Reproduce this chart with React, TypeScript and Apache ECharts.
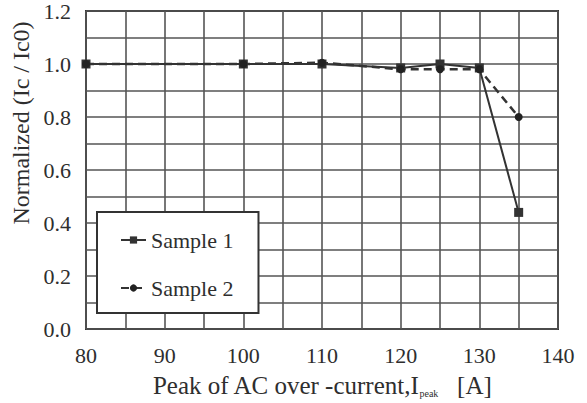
import React, { useEffect, useRef } from "react";
import * as echarts from "echarts";

// Peak AC over-current (A)
const currents = [80, 100, 110, 120, 125, 130, 135];
// Normalized critical current Ic / Ic0
const sample1 = [1.0, 1.0, 1.0, 0.985, 1.0, 0.985, 0.44];
const sample2 = [1.0, 1.0, 1.005, 0.98, 0.98, 0.98, 0.8];
const seriesNames = ["Sample 1", "Sample 2"];

const FONT = "Liberation Serif";
const INK = "#2e2e2e";

export default function App() {
  const ref = useRef<HTMLDivElement>(null);

  useEffect(() => {
    if (!ref.current) return;
    const chart = echarts.init(ref.current, undefined, { renderer: "svg" });
    const toPairs = (ys: number[]) => currents.map((x, i) => [x, ys[i]]);
    chart.setOption({
      animation: false,
      backgroundColor: "#ffffff",
      textStyle: { fontFamily: FONT, color: INK },
      grid: { left: 86, right: 29, top: 10, bottom: 71, show: true, borderColor: "#333", borderWidth: 2 },
      xAxis: {
        type: "value",
        min: 80,
        max: 140,
        interval: 5,
        name: "Peak of AC over -current,I{sub|peak}   [A]",
        nameLocation: "middle",
        nameGap: 44,
        nameTextStyle: {
          fontFamily: FONT,
          fontSize: 25,
          color: INK,
          rich: { sub: { fontFamily: FONT, fontSize: 10, color: INK, verticalAlign: "bottom", padding: [10, 0, 0, 0] } },
        },
        axisLine: { show: false },
        axisTick: { show: false },
        axisLabel: {
          fontFamily: FONT,
          fontSize: 22,
          color: INK,
          margin: 15,
          formatter: (v: number) => (v % 10 === 0 ? String(v) : ""),
        },
        splitLine: { show: true, lineStyle: { color: "#555", width: 1.6 } },
      },
      yAxis: {
        type: "value",
        min: 0,
        max: 1.2,
        interval: 0.1,
        name: "Normalized (Ic / Ic0)",
        nameLocation: "middle",
        nameGap: 51,
        nameTextStyle: { fontFamily: FONT, fontSize: 24, color: INK, padding: [0, 0, 0, 94] },
        axisLine: { show: false },
        axisTick: { show: false },
        axisLabel: {
          fontFamily: FONT,
          fontSize: 22,
          color: INK,
          margin: 15,
          formatter: (v: number) => {
            const r = Math.round(v * 10);
            return r % 2 === 0 ? (r / 10).toFixed(1) : "";
          },
        },
        splitLine: { show: true, lineStyle: { color: "#555", width: 1.6 } },
      },
      legend: {
        orient: "vertical",
        left: 97,
        top: 212,
        itemWidth: 25,
        itemHeight: 9,
        itemGap: 26,
        padding: [17, 25, 14, 23],
        backgroundColor: "#ffffff",
        borderColor: "#333",
        borderWidth: 2,
        textStyle: { fontFamily: FONT, fontSize: 22, color: INK },
        data: seriesNames,
      },
      series: [
        {
          name: seriesNames[0],
          type: "line",
          data: toPairs(sample1),
          symbol: "rect",
          symbolSize: 9,
          itemStyle: { color: "#333" },
          lineStyle: { color: "#333", width: 2, type: "solid" },
          z: 3,
        },
        {
          name: seriesNames[1],
          type: "line",
          data: toPairs(sample2),
          symbol: "circle",
          symbolSize: 8,
          itemStyle: { color: "#222" },
          lineStyle: { color: "#333", width: 2.5, type: [8, 5] },
          z: 4,
        },
      ],
    });
    return () => chart.dispose();
  }, []);

  return <div ref={ref} style={{ position: "absolute", left: 0, top: 0, width: 587, height: 403 }} />;
}
